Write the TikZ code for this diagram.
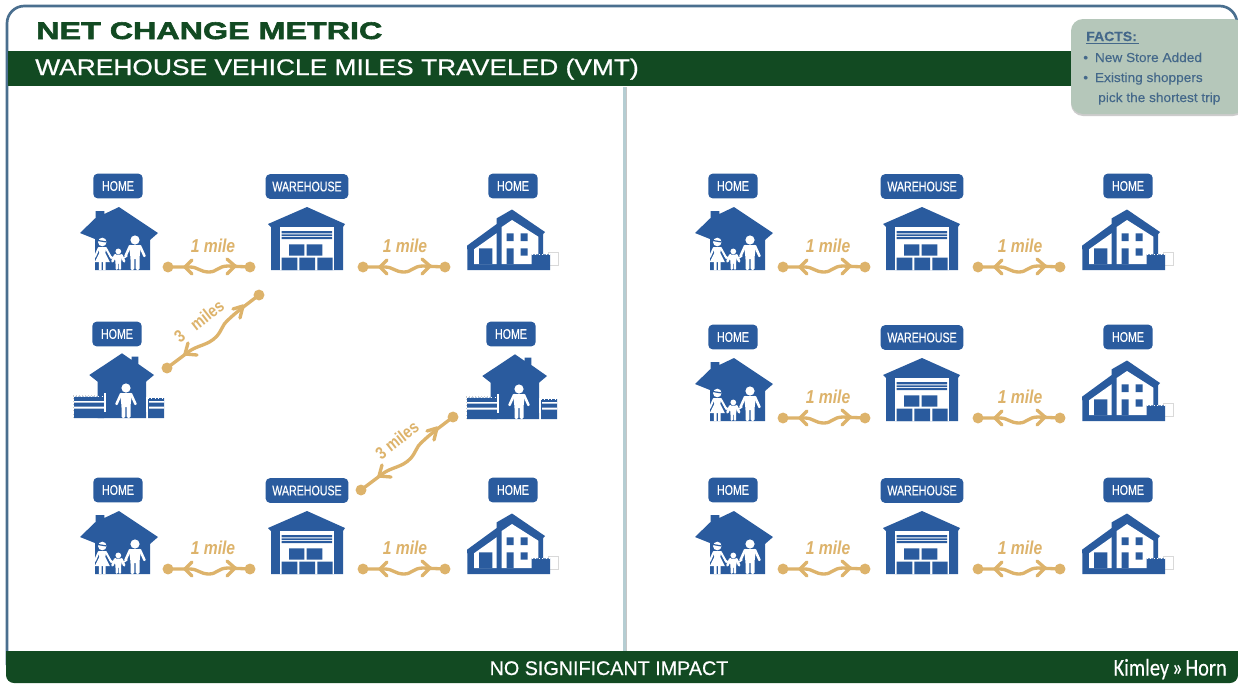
\documentclass[tikz,border=0pt]{standalone}
\usepackage{fontspec}
\setmainfont[FakeBold=0.5]{Liberation Sans}
\newfontfamily\tagfont[FakeStretch=0.76,FakeBold=0.3]{Liberation Sans}
\newfontfamily\milefont[FakeStretch=0.84]{Liberation Sans}
\newfontfamily\titlefont[FakeStretch=1.345,FakeBold=2.4]{Liberation Sans}
\newfontfamily\subfont[FakeStretch=1.17,FakeBold=0.7]{Liberation Sans}
\newfontfamily\factfont[FakeStretch=1.05,FakeBold=0.2]{Liberation Sans}
\newfontfamily\logofont[FakeStretch=0.85,FakeBold=0.3]{Carlito}
\definecolor{bandgreen}{HTML}{124A22}
\definecolor{edgeblue}{HTML}{4A6F8F}
\definecolor{iconblue}{HTML}{2A5B9E}
\definecolor{routegold}{HTML}{DDB36B}
\definecolor{factfill}{HTML}{B5C7BA}
\definecolor{facttext}{HTML}{44688A}
\definecolor{divider}{HTML}{B5CDD2}
\tikzset{
  tagbox/.style={fill=iconblue,rounded corners=3.2pt,minimum height=18.5pt,inner sep=0pt,text=white,font=\tagfont\fontsize{10.5}{12}\selectfont},
  hometag/.style={tagbox,minimum width=37pt},
  whtag/.style={tagbox,minimum width=62pt},
  routedot/.style={circle,fill=routegold,minimum size=8.2pt,inner sep=0pt},
  routeline/.style={draw=routegold,line width=2.5pt,line cap=round,line join=round},
  milelabel/.style={text=routegold,inner sep=0pt,font=\milefont\bfseries\itshape\fontsize{14}{15}\selectfont},
  factlabel/.style={text=facttext,anchor=base west,inner sep=0pt,font=\factfont\fontsize{9.75}{12}\selectfont},
  pics/personfig/.style={code={
    \fill[white] (0,-30) circle (4.6);
    \fill[white,rounded corners=1pt] (-6,-25) -- (6,-25) -- (4.5,-12) -- (4.5,0) -- (0.7,0) -- (0.7,-12) -- (-0.7,-12) -- (-0.7,0) -- (-4.5,0) -- (-4.5,-12) -- cycle;
    \draw[white,line width=1.9pt,line cap=round] (-5,-24) -- (-9.5,-14) (5,-24) -- (9.5,-14);
  }},
  pics/motherfig/.style={code={
    \fill[white] (0,-28) circle (4.3);
    \draw[iconblue,line width=.9pt] (-4.4,-29.5) -- (4.4,-28);
    \fill[white] (-4,-23) -- (4,-23) -- (3,-17) -- (7.5,-8) -- (-7.5,-8) -- (-3,-17) -- cycle;
    \fill[white] (-3.4,-8) rectangle (-0.7,0) (0.7,-8) rectangle (3.4,0);
    \draw[white,line width=1.5pt,line cap=round] (-3.5,-22) -- (-7.5,-13) (3.5,-22) -- (9,-12);
  }},
  pics/famhouse/.style={code={
    \fill[iconblue] (0,-63) -- (39,-37) -- (31,-30) -- (31,0) -- (-24,0) -- (-24,-31) -- (-39,-37) -- (-23.5,-52) -- (-23.5,-59) -- (-14.7,-59) -- (-14.7,-56) -- cycle;
    \pic at (-16.7,0) {motherfig};
    \pic[scale=.62] at (-0.7,0) {personfig};
    \pic at (16,0) {personfig};
    \draw[white,line width=1.1pt,line cap=round] (-9,-14) -- (-4.5,-11);
    \draw[white,line width=1.1pt,line cap=round] (3,-11) -- (8,-14);
  }},
  pics/warehouse/.style={code={
    \fill[iconblue] (0,-63) -- (38,-46) -- (36,-43) -- (36,0) -- (-36,0) -- (-36,-43) -- (-39,-46) -- cycle;
    \fill[white] (-27,-43) rectangle (26.5,0);
    \fill[iconblue] (-25.5,-39) rectangle (25,-36.7) (-25.5,-35.7) rectangle (25,-34) (-25.5,-33) rectangle (25,-31);
    \fill[iconblue] (-18,-25.7) rectangle (-2.7,-14.3) (-0.3,-25.7) rectangle (15.3,-14.3);
    \fill[iconblue] (-25.3,-12.3) rectangle (-9.7,0) (-7.7,-12.3) rectangle (8,0) (10.3,-12.3) rectangle (25.7,0);
  }},
  pics/modernhouse/.style={code={
    \draw[gray!30,line width=.3pt,fill=white] (36,-17.7) rectangle (46,-5);
    \fill[iconblue] (0,-60.5) -- (33,-38) -- (31,-35.7) -- (31,-15.7) -- (38,-15.7) -- (38,0) -- (-44.7,0) -- (-44.7,-20) -- (-45,-24.3) -- (-15.3,-46) -- (-15.3,-51.7) -- cycle;
    \fill[white] (0,-50) -- (26.3,-33.3) -- (26.3,-15.7) -- (19.7,-15.7) -- (19.7,-6) -- (-10.3,-6) -- (-10.3,-43) -- cycle;
    \fill[white] (-38,-20.7) -- (-15.3,-36.8) -- (-15.3,-6) -- (-38,-6) -- cycle;
    \fill[iconblue] (-5.3,-36.7) rectangle (1.5,-29) (8.7,-36.7) rectangle (15.5,-29) (8.7,-21.7) rectangle (15.5,-14.3) (-5.3,-21.7) rectangle (1.5,-6) (-33,-21.7) rectangle (-19.7,-6);
    \draw[white,line width=.6pt,dotted] (20,-15.7) -- (38,-15.7);
  }},
  pics/singlehouse/.style={code={
    \draw[gray!40,line width=.3pt,dotted] (-49,-1) -- (-49,-22.5) -- (-20,-22.5);
    \fill[iconblue] (-48,-21.3) rectangle (-18,0) (26,-20) rectangle (42,0);
    \fill[iconblue] (0,-64.7) -- (9.7,-58) -- (9.7,-61.3) -- (16.3,-61.3) -- (16.3,-54) -- (32,-43) -- (24,-36.3) -- (24,0) -- (-24.3,0) -- (-24.3,-36.3) -- (-32.7,-43) -- cycle;
    \fill[white] (-48,-11.5) rectangle (-18,-9.5) (-48,-17) rectangle (-18,-15.5) (27,-11.5) rectangle (42,-9.5) (27,-17) rectangle (42,-15.5);
    \draw[white,line width=.9pt] (-17,-25) -- (-17,-6) (24.8,-21) -- (24.8,-6);
    \draw[white,line width=.6pt,dotted] (-48,-21.3) -- (-20,-21.3) (26,-20) -- (42,-20);
    \pic at (4,0) {personfig};
  }}
}
% name, x, y : level route between two dots
\newcommand\levelroute[3]{%
  \begin{scope}[shift={(#2,#3)}]
    \node[routedot] (#1a) at (0,0) {};
    \node[routedot] (#1b) at (82,0) {};
    \draw[routeline] (#1a.center) -- (22,0) .. controls (30,0) and (32,5) .. (41,5) .. controls (49,5) and (50,-1) .. (60,-1) -- (#1b.center);
    \draw[routeline] (24,-7) -- (17,0) -- (24,7);
    \draw[routeline] (59,-8) -- (67,-1) -- (59,7);
  \end{scope}}
% name, x, y : climbing route between two dots
\newcommand\climbroute[3]{%
  \begin{scope}[shift={(#2,#3)}]
    \node[routedot] (#1a) at (0,0) {};
    \node[routedot] (#1b) at (92,-73) {};
    \draw[routeline] (#1a.center) -- (20,-15) .. controls (29,-23) and (41,-22) .. (50,-32) .. controls (55,-38) and (56,-44) .. (60,-47) .. controls (65,-52) and (70,-56) .. (75,-60) -- (#1b.center);
    \draw[routeline] (21,-25) -- (18,-14) -- (30,-13);
    \draw[routeline] (73,-50) -- (76,-62) -- (66,-59);
  \end{scope}}
% prefix, xshift, yshift, route yshift
\newcommand\tripleset[4]{%
  \begin{scope}[shift={(#2,#3)}]
    \node[hometag] (#1h1) at (118,186) {HOME};
    \node[whtag] (#1w) at (307,186.5) {WAREHOUSE};
    \node[hometag] (#1h2) at (513,186) {HOME};
    \pic at (119,270) {famhouse};
    \pic at (307,270) {warehouse};
    \pic at (512,270) {modernhouse};
    \begin{scope}[shift={(0,#4)}]
      \levelroute{#1p}{168}{267}
      \levelroute{#1q}{363}{267}
      \node[milelabel] (#1ml) at (213,246) {1 mile};
      \node[milelabel] (#1mr) at (405,246) {1 mile};
    \end{scope}
  \end{scope}}
\begin{document}
\begin{tikzpicture}[x=0.75pt,y=-0.75pt]
\useasboundingbox (0,0) rectangle (1238,683);
\clip (0,0) rectangle (1238,683);
\fill[white] (0,0) rectangle (1238,683);
% frame
\draw[edgeblue,line width=2pt,rounded corners=13pt] (7,665) -- (7,6) -- (1237,6) -- (1237,70);
% bands
\fill[bandgreen] (8,51) rectangle (1238,86);
\fill[bandgreen,rounded corners=6pt] (6,651) -- (6,683) -- (1238,683) -- (1238,651) -- cycle;
\fill[bandgreen] (6,651) rectangle (1238,670);
% divider
\fill[divider] (622.5,87) rectangle (625.5,651);
\fill[gray!45] (625.5,87) rectangle (626,651);
% titles
\node[anchor=base west,inner sep=0pt,text=bandgreen,font=\titlefont\bfseries\fontsize{18}{20}\selectfont] (title) at (36,39) {NET CHANGE METRIC};
\node[anchor=base west,inner sep=0pt,text=white,font=\subfont\fontsize{16.9}{20}\selectfont] (subtitle) at (35,75) {WAREHOUSE VEHICLE MILES TRAVELED (VMT)};
\node[inner sep=0pt,text=white,font=\fontsize{14.8}{18}\selectfont,anchor=base] (impact) at (609,675) {NO SIGNIFICANT IMPACT};
\node[anchor=base east,inner sep=0pt,text=white,font=\logofont\fontsize{18}{20}\selectfont] (logo) at (1227,675.5) {Kimley\hspace{2.2pt}»\hspace{2.2pt}Horn};
% facts panel
\fill[gray!40,rounded corners=9pt] (1071,21) -- (1071,116) -- (1245,116) -- (1245,21) -- cycle;
\fill[factfill,rounded corners=9pt] (1071,19) -- (1071,114) -- (1245,114) -- (1245,19) -- cycle;
\node[factlabel,font=\factfont\bfseries\fontsize{10}{12}\selectfont] (facts) at (1086,41) {FACTS:};
\draw[facttext,line width=.7pt] (facts.base west) ++(0,2) -- ++(53,0);
\node[factlabel] (f1) at (1083,62) {•\hspace{5.2pt}New Store Added};
\node[factlabel] (f2) at (1083,82) {•\hspace{5.2pt}Existing shoppers};
\node[factlabel] (f3) at (1098,102) {pick the shortest trip};
% left panel
\tripleset{la}{0}{0}{0}
\tripleset{lc}{0}{304}{-2}
\node[hometag] (lbh) at (117,334) {HOME};
\pic at (122,418) {singlehouse};
\climbroute{lbr}{167}{368}
\node[milelabel,rotate=38,font=\milefont\bfseries\fontsize{13}{14}\selectfont] (lbl) at (199,321) {3\hspace{9pt}miles};
\node[hometag] (lbi) at (511,334) {HOME};
\pic at (515,419) {singlehouse};
\climbroute{lcr}{361}{490}
\node[milelabel,rotate=38,font=\milefont\bfseries\fontsize{13}{14}\selectfont] (lcl) at (397,440) {3 miles};
% right panel
\tripleset{ra}{615}{0}{0}
\tripleset{rb}{615}{151}{0}
\tripleset{rc}{615}{304}{-2}
\end{tikzpicture}
\end{document}
